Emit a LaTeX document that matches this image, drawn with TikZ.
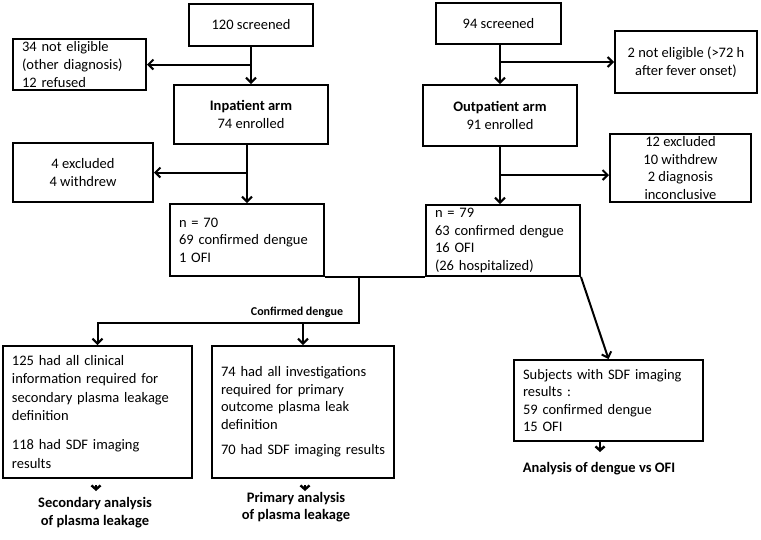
\documentclass[tikz,border=0pt]{standalone}
\usepackage{fontspec}
\setmainfont{Carlito}
\usetikzlibrary{arrows.meta}
\begin{document}
\begin{tikzpicture}[x=1pt,y=-1pt,
  every node/.style={font=\fontsize{14.5}{17.6}\selectfont},
  bx/.style={draw, line width=2pt, inner sep=0pt, align=center},
  lbx/.style={draw, line width=2pt, inner xsep=9pt, inner ysep=0pt, align=left},
  lab/.style={font=\fontsize{14.5}{18}\selectfont\bfseries, align=center, inner sep=0pt},
  arr/.style={line width=2pt, -{Straight Barb[length=5pt,width=10pt]}},
  arrs/.style={line width=2.4pt, -{Straight Barb[length=4pt,width=9pt]}},
  ln/.style={line width=2pt}]
\fill[white] (0,0) rectangle (761,539);
\useasboundingbox (0,0) rectangle (761,539);

% left arm
\node[bx, minimum width=124pt, minimum height=42pt] (s120) at (251,25) {120 screened};
\node[lbx, text width=115pt, minimum height=51pt] (ne34) at (79.5,64.5) {34 not eligible\\(other diagnosis)\\12 refused};
\node[bx, minimum width=154pt, minimum height=59pt] (inp) at (251,114.5) {\textbf{Inpatient arm}\\74 enrolled};
\node[bx, minimum width=140pt, minimum height=59pt] (ex4) at (83,172.5) {4 excluded\\4 withdrew};
\node[lbx, text width=136pt, minimum height=72pt] (n70) at (247,240) {n = 70\\69 confirmed dengue\\1 OFI};

% right arm
\node[bx, minimum width=125pt, minimum height=41pt] (s94) at (498.5,23.5) {94 screened};
\node[bx, minimum width=142pt, minimum height=62pt] (ne2) at (686,62) {2 not eligible (>72 h\\after fever onset)};
\node[bx, minimum width=154pt, minimum height=61pt] (out) at (500,115.5) {\textbf{Outpatient arm}\\91 enrolled};
\node[bx, minimum width=141pt, minimum height=68pt] (ex12) at (680.5,168) {12 excluded\\10 withdrew\\2 diagnosis\\inconclusive};
\node[lbx, text width=136pt, minimum height=71pt] (n79) at (503,240.5) {n = 79\\63 confirmed dengue\\16 OFI\\(26 hospitalized)};

% bottom
\node[lbx, text width=171pt, minimum height=132pt, font=\fontsize{14.5}{18.5}\selectfont] (b125) at (97.5,412) {125 had all clinical\\information required for\\secondary plasma leakage\\definition\\[10.5pt]118 had SDF imaging\\results\par\vspace{11pt}};
\node[lbx, text width=164pt, minimum height=132pt] (b74) at (303,412) {74 had all investigations\\required for primary\\outcome plasma leak\\definition\\[8pt]\mbox{70 had SDF imaging results}\par\vspace{7pt}};
\node[lbx, text width=171pt, minimum height=81pt] (subj) at (608.5,400.5) {Subjects with SDF imaging\\results :\\59 confirmed dengue\\15 OFI};

\node[lab] (sec) at (95,513) {Secondary analysis\\of plasma leakage};
\node[lab, font=\fontsize{14.5}{16.5}\selectfont\bfseries] (pri) at (296,507) {Primary analysis\\of plasma leakage};
\node[lab] (ana) at (599,469) {Analysis of dengue vs OFI};
\node[font=\fontsize{12}{14}\selectfont\bfseries, inner sep=0pt] (cd) at (297,312) {Confirmed dengue};

% connectors left
\draw[arr] (s120.south) -- (inp.north);
\draw[arr] (s120.south |- ne34.east) -- (ne34.east);
\draw[arr] (inp.south -| n70.north) -- (n70.north);
\draw[arr] (n70.north |- ex4.east) -- (ex4.east);

% connectors right
\draw[arr] (s94.south -| out.north) -- (out.north);
\draw[arr] (out.north |- ne2.west) -- (ne2.west);
\draw[arr] (out.south) -- (out.south |- n79.north);
\coordinate (ex12in) at ([yshift=-7pt]ex12.west);
\draw[arr] (out.south |- ex12in) -- (ex12in);

% merge
\draw[ln] (n70.south east) -- (n79.south west);
\coordinate (j) at (359,276);
\coordinate (j2) at (359,323);
\draw[arr] (j) -- (j2) -| (b125.north);
\draw[arr] (j2 -| b74.north) -- (b74.north);
\draw[arr] (n79.south east) -- (subj.north);

% outputs
\coordinate (anatip) at (600,452);
\draw[arrs] (subj.south -| anatip) -- (anatip);
\coordinate (sectip) at (96,491);
\draw[arrs, shorten <=6pt] (b125.south -| sectip) -- (sectip);
\coordinate (pritip) at (305,491);
\draw[arrs, shorten <=6pt] (b74.south -| pritip) -- (pritip);
\end{tikzpicture}
\end{document}
